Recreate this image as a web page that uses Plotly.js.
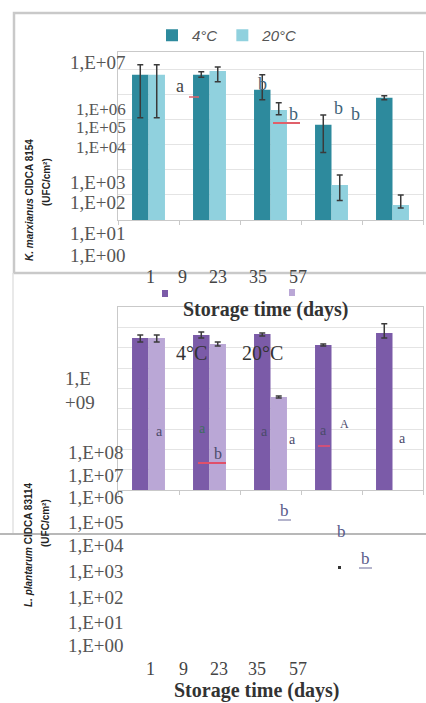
<!DOCTYPE html>
<html>
<head>
<meta charset="utf-8">
<script src="https://cdn.plot.ly/plotly-3.0.1.min.js"></script>
<style>html,body{margin:0;padding:0;background:#fff;}#chart{width:426px;height:703px;}</style>
</head>
<body>
<div id="chart"></div>
<script>
// ---------- data ----------
const days = ["1", "9", "23", "35", "57"];
const seriesNames = ["4°C", "20°C"];

// K. marxianus CIDCA 8154 (UFC/cm2)
const km4 = [6.3e6, 6.3e6, 1.6e6, 6.3e4, 7.6e5];
const km4Up = [9.5e6, 2.0e6, 4.7e6, 9.5e4, 1.5e5];
const km4Down = [6.18e6, 1.3e6, 9.7e5, 5.8e4, 1.3e5];
const km20 = [6.3e6, 8.9e6, 2.5e5, 250, 40];
const km20Up = [9.5e6, 4.1e6, 2.3e5, 380, 60];
const km20Down = [6.18e6, 5.6e6, 9.0e4, 190, 10];

// L. plantarum CIDCA 83114 (UFC/cm2)
const lp4 = [3.0e7, 4.2e7, 4.7e7, 1.35e7, 5.2e7];
const lp4Up = [1.2e7, 1.7e7, 6.0e6, 1.5e6, 9.8e7];
const lp4Down = [1.1e7, 1.2e7, 1.0e7, 1.5e6, 2.2e7];
const lp20 = [3.0e7, 1.5e7, 3.7e4, null, null];
const lp20Up = [1.2e7, 4.0e6, 5.0e3, null, null];
const lp20Down = [1.1e7, 3.0e6, 4.0e3, null, null];

// tick labels as printed
const topTickLabels = ["1,E+07", "1,E+06", "1,E+05", "1,E+04", "1,E+03", "1,E+02", "1,E+01", "1,E+00"];
const bottomTickLabels = ["1,E+08", "1,E+07", "1,E+06", "1,E+05", "1,E+04", "1,E+03", "1,E+02", "1,E+01", "1,E+00"];
const xTitle = "Storage time (days)";

// ---------- styles / layout ----------
const W = 426, H = 703;
const px = v => v / W;
const py = v => 1 - v / H;

const tealDark = "#2d8a9d", tealLight = "#90d1de";
const purDark = "#7b5ba8", purLight = "#baa7d6";
const errStyle = {thickness: 1.5, width: 3, color: "#3a3a3a"};

function bar(y, up, dn, color, name, xa, ya, showlegend) {
  return {
    type: "bar", x: days, y: y, name: name, xaxis: xa, yaxis: ya,
    marker: {color: color}, showlegend: showlegend,
    error_y: Object.assign({type: "data", symmetric: false, array: up, arrayminus: dn, visible: true}, errStyle)
  };
}

const traces = [
  bar(km4, km4Up, km4Down, tealDark, seriesNames[0], "x", "y", true),
  bar(km20, km20Up, km20Down, tealLight, seriesNames[1], "x", "y", true),
  bar(lp4, lp4Up, lp4Down, purDark, seriesNames[0], "x2", "y2", false),
  bar(lp20, lp20Up, lp20Down, purLight, seriesNames[1], "x2", "y2", false)
];

const ann = [];
function A(text, x, y, o) {
  ann.push(Object.assign({text: text, x: px(x), y: py(y), xref: "paper", yref: "paper",
    showarrow: false, xanchor: "center", yanchor: "middle",
    font: {family: "Liberation Serif", size: 16, color: "#444"}}, o || {}));
}
const tickFont = {family: "Liberation Serif", size: 19, color: "#555"};
const tickFontTight = {family: "Liberation Serif", size: 17, color: "#555"};

// top tick labels (as printed, crowded in the middle)
const topTickY = [62, 109, 128, 147, 182, 203, 233, 255];
topTickLabels.forEach((t, i) => A(t, 128, topTickY[i], {xanchor: "right", font: (i >= 1 && i <= 3) ? tickFontTight : tickFont}));
// bottom tick labels
A("1,E", 63, 378, {xanchor: "left", font: tickFont});
A("+09", 63, 402, {xanchor: "left", font: tickFont});
const botTickY = [452, 475, 497, 522, 545, 571, 597, 622, 645];
bottomTickLabels.forEach((t, i) => A(t, 126, botTickY[i], {xanchor: "right", font: tickFont}));

// x tick labels (as printed)
const xLabX = [150, 182, 218, 258, 298];
const xLabX2 = [150, 183, 219, 257, 298];
const xLabFont = {family: "Liberation Serif", size: 18, color: "#444"};
days.forEach((d, i) => {
  A(d, xLabX[i], 277, {font: xLabFont});
  A(d, xLabX2[i], 669, {font: xLabFont});
});
A("<b>" + xTitle + "</b>", 266, 309, {font: {family: "Liberation Serif", size: 20, color: "#333"}});
A("<b>" + xTitle + "</b>", 257, 690, {font: {family: "Liberation Serif", size: 20, color: "#333"}});

// y titles
const yTitleFont = {family: "Liberation Sans", size: 10, color: "#222", weight: "bold"};
A("<b><i>K. marxianus</i> CIDCA 8154</b>", 29, 200, {textangle: -90, font: yTitleFont});
A("<b>(UFC/cm²)</b>", 46, 182, {textangle: -90, font: yTitleFont});
A("<b><i>L. plantarum</i> CIDCA 83114</b>", 28, 545, {textangle: -90, font: yTitleFont});
A("<b>(UFC/cm²)</b>", 45, 523, {textangle: -90, font: yTitleFont});

// bottom panel series labels
A(seriesNames[0], 191, 353, {font: {family: "Liberation Serif", size: 20, color: "#333"}});
A(seriesNames[1], 262, 353, {font: {family: "Liberation Serif", size: 20, color: "#333"}});

// significance letters top
const letC = "#3f6378";
A("a", 180, 86, {font: {family: "Liberation Serif", size: 18, color: "#444"}});
A("b", 262, 84, {font: {family: "Liberation Serif", size: 18, color: letC}});
A("b", 293, 114, {font: {family: "Liberation Serif", size: 18, color: letC}});
A("b", 338, 108, {font: {family: "Liberation Serif", size: 18, color: letC}});
A("b", 355, 114, {font: {family: "Liberation Serif", size: 18, color: letC}});
// significance letters bottom
const letC2 = "#4a4a6a";
A("a", 159, 431, {font: {family: "Liberation Serif", size: 14, color: letC2}});
A("a", 202, 428, {font: {family: "Liberation Serif", size: 14, color: "#3e6e5e"}});
A("b", 218, 453, {font: {family: "Liberation Serif", size: 16, color: letC2}});
A("a", 264, 431, {font: {family: "Liberation Serif", size: 14, color: letC2}});
A("a", 292, 439, {font: {family: "Liberation Serif", size: 14, color: letC2}});
A("a", 323, 430, {font: {family: "Liberation Serif", size: 14, color: letC2}});
A("A", 344, 424, {font: {family: "Liberation Serif", size: 12, color: letC2}});
A("a", 402, 438, {font: {family: "Liberation Serif", size: 14, color: letC2}});
A("b", 284, 510, {font: {family: "Liberation Serif", size: 17, color: "#5a5a8a"}});
A("b", 341, 531, {font: {family: "Liberation Serif", size: 17, color: "#5a5a8a"}});
A("b", 365, 558, {font: {family: "Liberation Serif", size: 17, color: "#5a5a8a"}});

const gray = "#c9c9c9";
function L(x0, y0, x1, y1, color, width) {
  return {type: "line", xref: "paper", yref: "paper", x0: px(x0), x1: px(x1), y0: py(y0), y1: py(y1), line: {color: color, width: width}};
}
function R(x0, y0, x1, y1, color) {
  return {type: "rect", xref: "paper", yref: "paper", x0: px(x0), x1: px(x1), y0: py(y0), y1: py(y1), line: {width: 0}, fillcolor: color};
}
const shapes = [
  {type: "rect", xref: "paper", yref: "paper", x0: px(14), x1: px(430), y0: py(13), y1: py(273), line: {color: gray, width: 2.5}},
  L(13, 273, 13, 533, "#e2e2e2", 1.5),
  L(0, 534, 426, 534, "#b8b8b8", 2),
  // bottom legend swatches
  R(162, 290, 168, 297, purDark),
  R(289, 289, 295, 296, purLight),
  // stray dot
  R(338, 566, 341, 569, "#333"),
  // red marks
  L(189, 97, 199, 97, "#e0606a", 1.5),
  L(273, 123, 300, 123, "#e0606a", 2),
  L(198, 463, 226, 463, "#e0506a", 2),
  L(318, 446, 330, 446, "#d0507a", 2),
  // underlines of letters
  L(278, 520, 291, 520, "#6a6a9a", 1),
  L(359, 568, 372, 568, "#6a6a9a", 1)
];

const axCommonX = {
  type: "category", showticklabels: false, showline: true, linecolor: gray, linewidth: 1,
  mirror: true, ticks: "outside", tickson: "boundaries", ticklen: 4, tickcolor: gray,
  showgrid: false, zeroline: false, fixedrange: true
};
const axCommonY = {
  type: "log", showticklabels: false, showline: true, linecolor: gray, linewidth: 1,
  mirror: true, ticks: "", dtick: 1, showgrid: true, gridcolor: "#e4e4e4", gridwidth: 1,
  zeroline: false, fixedrange: true
};

const layout = {
  width: W, height: H,
  margin: {l: 0, r: 0, t: 0, b: 0},
  paper_bgcolor: "#fff", plot_bgcolor: "#fff",
  barmode: "group", bargap: 0.46, bargroupgap: 0,
  xaxis: Object.assign({}, axCommonX, {domain: [px(118), px(423)], anchor: "y"}),
  yaxis: Object.assign({}, axCommonY, {domain: [py(220), py(52)], range: [1, 7.71], anchor: "x"}),
  xaxis2: Object.assign({}, axCommonX, {domain: [px(118), px(423)], anchor: "y2"}),
  yaxis2: Object.assign({}, axCommonY, {domain: [py(490), py(307)], range: [0, 9], anchor: "x2"}),
  legend: {
    orientation: "h", x: px(152), y: py(19), xanchor: "left", yanchor: "top",
    font: {family: "Liberation Sans", size: 15, color: "#555", style: "italic"},
    itemwidth: 30, bgcolor: "rgba(0,0,0,0)", traceorder: "normal"
  },
  annotations: ann,
  shapes: shapes
};

Plotly.newPlot("chart", traces, layout, {staticPlot: true, displayModeBar: false});
</script>
</body>
</html>
